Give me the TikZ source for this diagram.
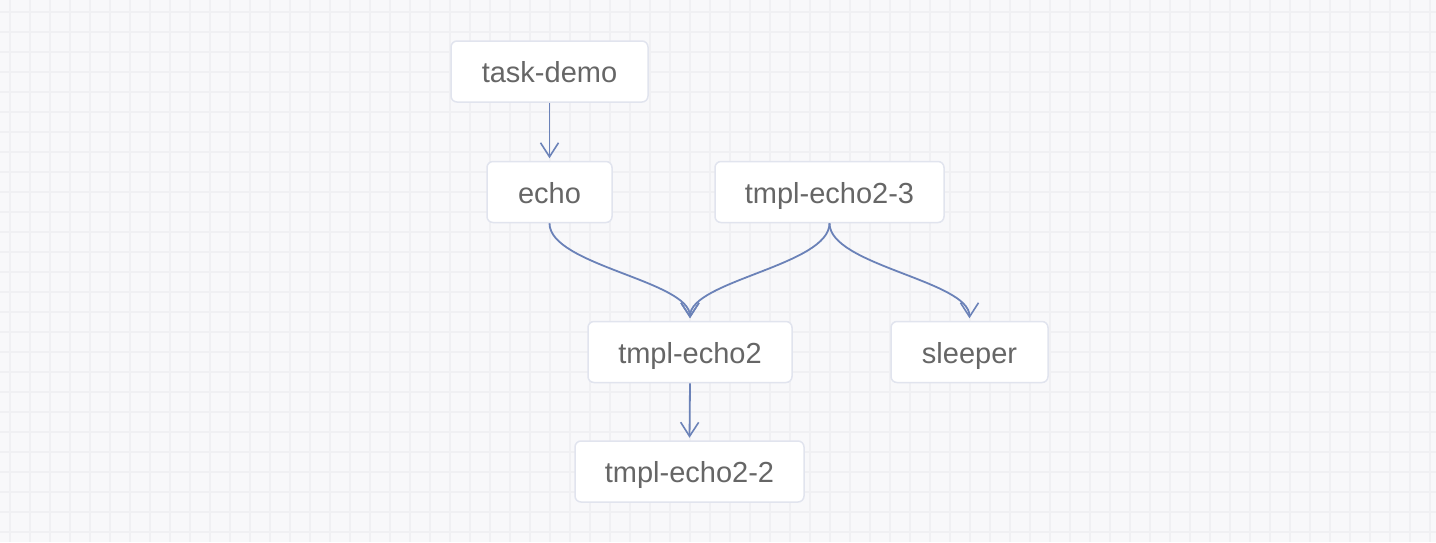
\documentclass[tikz,border=0pt]{standalone}
\usepackage{fontspec}
\setmainfont{Liberation Sans}
\usetikzlibrary{arrows.meta}
\definecolor{bgc}{HTML}{F8F8FA}
\definecolor{gridc}{HTML}{F0F0F3}
\definecolor{boxborder}{HTML}{E1E4EE}
\definecolor{edgec}{HTML}{6B82B8}
\definecolor{txtc}{HTML}{666666}
\tikzset{
  taskbox/.style={draw=boxborder, line width=1.5pt, fill=white, rounded corners=6pt,
    inner sep=0pt, minimum height=61pt, text=txtc, text height=22pt, text depth=0pt,
    font=\fontsize{29pt}{34pt}\selectfont},
  edge/.style={draw=edgec, line width=1.8pt,
    -{Straight Barb[length=14pt,width=18pt,line width=1.6pt]}, shorten >=2.5pt}
}
\begin{document}
\begin{tikzpicture}[x=1pt,y=-1pt]
\useasboundingbox (0,0) rectangle (1436,542);
\fill[bgc] (0,0) rectangle (1436,542);
\foreach \gx in {10,30,...,1430} \draw[gridc, line width=1.2pt] (\gx,0) -- (\gx,542);
\foreach \gy in {12,32,...,532} \draw[gridc, line width=1.2pt] (0,\gy) -- (1436,\gy);

\node[taskbox, minimum width=197pt] (td) at (549.5,71.5) {task-demo};
\node[taskbox, minimum width=125pt] (echo) at (549.5,192) {echo};
\node[taskbox, minimum width=229pt] (t23) at (829.5,192) {tmpl-echo2-3};
\node[taskbox, minimum width=204pt] (te2) at (690,352) {tmpl-echo2};
\node[taskbox, minimum width=157pt] (sl) at (969.5,352) {sleeper};
\node[taskbox, minimum width=229pt] (t22) at (689.5,471.5) {tmpl-echo2-2};

\draw[edge] (td.south) -- (echo.north);
\draw[edge] (echo.south) .. controls ([yshift=-42pt]echo.south) and ([yshift=40pt]te2.north) .. (te2.north);
\draw[edge] (t23.south) .. controls ([yshift=-42pt]t23.south) and ([yshift=40pt]te2.north) .. (te2.north);
\draw[edge] (t23.south) .. controls ([yshift=-42pt]t23.south) and ([yshift=40pt]sl.north) .. (sl.north);
\draw[edge] (te2.south) -- (t22.north);
\end{tikzpicture}
\end{document}
